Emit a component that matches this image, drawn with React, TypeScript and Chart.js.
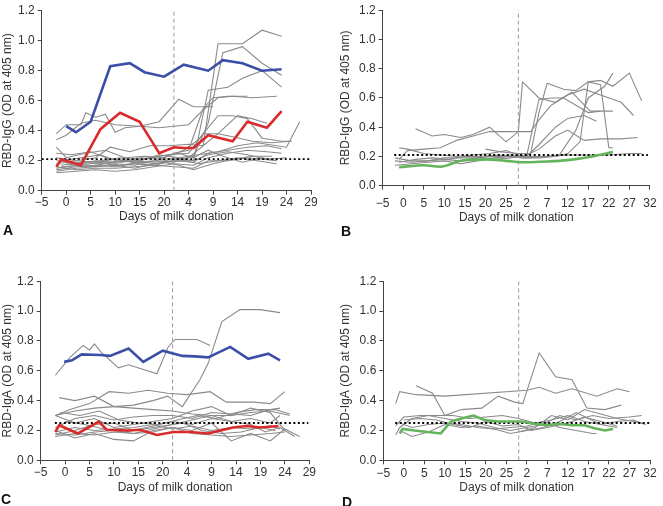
import React, { useEffect, useRef } from "react";
import { Chart, registerables } from "chart.js";
Chart.register(...registerables);

type P = [number, number];

// x values are positions on a continuous axis; second phase day d sits at d + SHIFT
const A_SHIFT = 21;
const B_SHIFT = 28;
const A_BREAK = 22;
const B_BREAK = 28;
const CUTOFF_IGG = 0.21;
const CUTOFF_IGA = 0.25;
const Y_TICKS_MAX = 1.2;

// ---------- Panel A (RBD-IgG) ----------
const A_BLUE: P[] = [[0,0.43],[2,0.39],[5,0.46],[9,0.83],[13,0.85],[16,0.79],[20,0.76],[24,0.84],[29,0.80],[32,0.87],[36,0.85],[40,0.80],[44,0.81]];
const A_RED: P[] = [[-2,0.16],[-1,0.21],[3,0.17],[7,0.41],[11,0.52],[15,0.46],[19,0.25],[22,0.29],[24,0.285],[26,0.285],[29,0.37],[34,0.33],[37,0.46],[41,0.42],[44,0.53]];
const A_GRAY_1: P[] = [[-2,0.38],[0,0.44],[3,0.44],[4,0.52],[6,0.49],[8,0.51],[10,0.39],[12,0.42],[15,0.43],[19,0.46],[23,0.61],[26,0.56],[30,0.56]];
const A_GRAY_2: P[] = [[-2,0.34],[0,0.37],[3,0.45],[6,0.47],[10,0.44],[15,0.43],[19,0.42],[22,0.43],[25,0.44],[28,0.54],[31,0.62],[34,0.63],[38,0.62],[43,0.63]];
const A_GRAY_3: P[] = [[-2,0.2],[2,0.18],[6,0.2],[10,0.19],[14,0.2],[18,0.19],[22,0.21],[25,0.22],[28,0.3],[31,0.98],[36,0.98],[40,1.07],[44,1.03]];
const A_GRAY_4: P[] = [[-2,0.15],[2,0.17],[6,0.16],[10,0.18],[14,0.17],[18,0.2],[22,0.19],[26,0.23],[29,0.45],[32,0.92],[36,0.96],[40,0.85],[44,0.77]];
const A_GRAY_5: P[] = [[-2,0.14],[2,0.16],[6,0.17],[10,0.16],[14,0.18],[18,0.17],[22,0.2],[26,0.2],[29,0.67],[33,0.69],[36,0.75],[40,0.8],[44,0.69]];
const A_GRAY_6: P[] = [[-2,0.18],[2,0.2],[6,0.22],[9,0.29],[13,0.26],[17,0.3],[21,0.3],[25,0.31],[28,0.3],[31,0.38],[35,0.5],[38,0.48],[41,0.45]];
const A_GRAY_7: P[] = [[-1,0.2],[3,0.18],[7,0.2],[11,0.22],[15,0.2],[19,0.24],[23,0.22],[27,0.24],[31,0.26],[35,0.3],[39,0.32],[45,0.29],[47.7,0.46]];
const A_GRAY_8: P[] = [[-2,0.29],[0,0.22],[4,0.25],[8,0.27],[12,0.22],[16,0.23],[20,0.22],[24,0.27],[27,0.34],[31,0.5],[34,0.5],[37,0.48],[40,0.35],[44,0.33],[46,0.33]];
const A_GRAY_9: P[] = [[-2,0.25],[1,0.24],[5,0.26],[9,0.21],[13,0.2],[17,0.22],[21,0.24],[25,0.25],[28,0.38],[31,0.38],[34,0.36],[38,0.33],[42,0.32],[46,0.33]];
const A_GRAY_10: P[] = [[-2,0.16],[2,0.14],[6,0.15],[10,0.15],[14,0.16],[18,0.17],[22,0.16],[26,0.15],[29,0.2],[33,0.2],[37,0.22],[40,0.21],[43,0.2]];
const A_GRAY_11: P[] = [[-2,0.12],[2,0.13],[6,0.14],[10,0.13],[14,0.14],[18,0.16],[22,0.18],[26,0.17],[29,0.22],[33,0.25],[37,0.27],[41,0.26],[44,0.25]];
const A_GRAY_12: P[] = [[-2,0.13],[2,0.15],[6,0.16],[10,0.17],[14,0.15],[18,0.18],[22,0.2],[26,0.19],[29,0.25],[33,0.27],[37,0.29],[41,0.3],[44,0.28]];
const A_GRAY_13: P[] = [[-1,0.17],[3,0.19],[7,0.18],[11,0.2],[15,0.22],[19,0.21],[22,0.25],[25,0.27],[28,0.55],[30,0.62],[33,0.63],[37,0.63]];
const A_GRAY_14: P[] = [[-1,0.2],[3,0.22],[7,0.24],[11,0.19],[15,0.2],[19,0.23],[23,0.25],[26,0.22],[29,0.27],[32,0.23],[36,0.19],[40,0.22],[43,0.2]];
const A_GRAY_15: P[] = [[-2,0.22],[2,0.2],[6,0.19],[10,0.21],[14,0.19],[18,0.2],[22,0.22],[26,0.2],[29,0.24],[33,0.26],[37,0.24],[41,0.21],[45,0.22]];
const A_GRAY_16: P[] = [[-1,0.16],[3,0.17],[7,0.19],[11,0.17],[15,0.19],[19,0.18],[23,0.21],[27,0.18],[31,0.2],[35,0.22],[39,0.2],[43,0.18]];
const A_GRAY_17: P[] = [[0,0.18],[4,0.16],[8,0.18],[12,0.2],[16,0.17],[20,0.19],[23,0.17],[26,0.14],[30,0.18],[34,0.21],[38,0.23],[42,0.23]];
const A_GRAY = [A_GRAY_1,A_GRAY_2,A_GRAY_3,A_GRAY_4,A_GRAY_5,A_GRAY_6,A_GRAY_7,A_GRAY_8,A_GRAY_9,A_GRAY_10,A_GRAY_11,A_GRAY_12,A_GRAY_13,A_GRAY_14,A_GRAY_15,A_GRAY_16,A_GRAY_17];

// ---------- Panel B (RBD-IgG) ----------
const B_GREEN: P[] = [[-1,0.127],[5,0.14],[9,0.13],[14,0.17],[20,0.18],[25,0.17],[30,0.16],[35,0.165],[40,0.175],[46,0.2],[51,0.23]];
const B_GRAY_1: P[] = [[3,0.39],[7,0.34],[10,0.35],[14,0.33],[17,0.35],[21,0.4],[25,0.3],[28,0.37],[29,0.71],[33,0.6],[37,0.57],[41,0.64],[45.5,0.51],[51,0.51]];
const B_GRAY_2: P[] = [[-1,0.18],[1,0.24],[5,0.25],[9,0.26],[13,0.31],[17,0.34],[21,0.37],[25,0.37],[29,0.37],[31,0.37],[33,0.45],[36,0.55],[40,0.62],[44,0.66],[48,0.62],[53,0.57],[56,0.48]];
const B_GRAY_3: P[] = [[-1,0.26],[1,0.25],[5,0.22],[9,0.21],[13,0.2],[17,0.21],[21,0.22],[25,0.24],[28,0.21],[30,0.2],[33,0.59],[36,0.6],[39,0.6],[42,0.55],[45,0.5],[48,0.51]];
const B_GRAY_4: P[] = [[20,0.25],[24,0.23],[28,0.22],[31,0.22],[33,0.5],[35,0.7],[39,0.66],[42,0.65],[45,0.71],[48,0.72],[51,0.68],[55,0.77],[58,0.58]];
const B_GRAY_5: P[] = [[-2,0.17],[2,0.16],[6,0.17],[10,0.19],[14,0.19],[18,0.19],[22,0.18],[26,0.19],[30,0.21],[33,0.25],[37,0.34],[40,0.38],[44,0.31],[48,0.32],[53,0.32],[57,0.33]];
const B_GRAY_6: P[] = [[-2,0.19],[2,0.17],[6,0.17],[10,0.18],[14,0.17],[18,0.19],[22,0.2],[26,0.21],[30,0.2],[33,0.28],[37,0.4],[40,0.46],[44,0.48],[47,0.44]];
const B_GRAY_7: P[] = [[-2,0.14],[2,0.15],[6,0.16],[10,0.17],[14,0.15],[18,0.17],[22,0.19],[26,0.2],[29,0.19],[33,0.19],[37,0.2],[40,0.22],[43,0.3],[45,0.71],[48,0.69],[50,0.26],[51,0.26]];
const B_GRAY_8: P[] = [[-1,0.16],[3,0.18],[7,0.19],[11,0.18],[15,0.2],[19,0.2],[23,0.21],[27,0.2],[30,0.2],[34,0.2],[38,0.21],[42,0.38],[45,0.6],[49,0.68],[51,0.77]];
const B_GRAY_9: P[] = [[20,0.2],[25,0.2],[30,0.19],[35,0.2],[40,0.21],[45,0.21],[50,0.21],[55,0.22],[58,0.22]];
const B_GRAY = [B_GRAY_1,B_GRAY_2,B_GRAY_3,B_GRAY_4,B_GRAY_5,B_GRAY_6,B_GRAY_7,B_GRAY_8,B_GRAY_9];

// ---------- Panel C (RBD-IgA) ----------
const C_BLUE: P[] = [[-0.2,0.66],[1.4,0.67],[3.4,0.71],[7.2,0.706],[9.2,0.7],[13,0.75],[16,0.66],[20,0.735],[24,0.7],[26.6,0.697],[29.3,0.69],[33.8,0.76],[37.5,0.68],[41.6,0.715],[44,0.67]];
const C_RED: P[] = [[-2,0.19],[-1.2,0.235],[2.6,0.18],[6.9,0.26],[8.5,0.205],[13,0.2],[15.3,0.205],[18.8,0.17],[22.2,0.19],[25.6,0.19],[29.3,0.18],[34.4,0.22],[37.2,0.23],[39.9,0.22],[43.7,0.23]];
const C_GRAY_1: P[] = [[-2,0.57],[1,0.69],[3.7,0.77],[5,0.74],[6,0.78],[7.2,0.73],[10.9,0.62],[13,0.64],[18.8,0.58],[21.1,0.76],[22.5,0.81],[27,0.81],[29.7,0.77]];
const C_GRAY_2: P[] = [[-2,0.3],[2,0.33],[6,0.35],[10,0.36],[14,0.37],[18,0.4],[21,0.43],[24,0.36],[27.6,0.54],[29.3,0.65],[32.1,0.93],[35.8,1.01],[39.9,1.01],[44,0.99]];
const C_GRAY_3: P[] = [[-2,0.3],[1,0.34],[5,0.38],[9,0.46],[13,0.45],[17,0.47],[21,0.45],[25,0.44],[29.7,0.46],[33,0.39],[38.6,0.39],[42,0.38],[45,0.46]];
const C_GRAY_4: P[] = [[-1.2,0.42],[2,0.4],[6,0.43],[10,0.36],[14,0.35],[18,0.34],[22,0.33],[26,0.31],[30,0.3],[34,0.3],[38,0.32],[42,0.33],[46,0.3]];
const C_GRAY_5: P[] = [[-2,0.3],[2,0.25],[6,0.28],[10,0.22],[14,0.24],[18,0.26],[22,0.28],[26,0.33],[30,0.36],[34,0.3],[38,0.35],[42,0.32],[45,0.2]];
const C_GRAY_6: P[] = [[-2,0.2],[2,0.15],[6,0.18],[10,0.14],[14,0.13],[18,0.2],[22,0.22],[26,0.2],[30,0.25],[34,0.13],[38,0.18],[42,0.13],[45,0.21],[48,0.16]];
const C_GRAY_7: P[] = [[-2,0.17],[2,0.2],[6,0.24],[10,0.25],[14,0.2],[18,0.23],[22,0.26],[26,0.24],[30,0.28],[34,0.26],[38,0.28],[42,0.25],[44,0.3]];
const C_GRAY_8: P[] = [[-2,0.22],[2,0.28],[6,0.3],[10,0.27],[14,0.29],[18,0.3],[22,0.3],[26,0.28],[30,0.32],[34,0.31],[38,0.3],[42,0.34],[44,0.35]];
const C_GRAY_9: P[] = [[-2,0.16],[2,0.18],[6,0.17],[10,0.19],[14,0.18],[18,0.19],[22,0.22],[26,0.18],[30,0.17],[34,0.16],[38,0.17],[42,0.18],[45,0.19]];
const C_GRAY_10: P[] = [[-1,0.32],[3,0.3],[7,0.33],[11,0.27],[15,0.25],[19,0.24],[23,0.27],[27,0.3],[31,0.28],[35,0.32],[39,0.34],[43,0.34],[46,0.31]];
const C_GRAY_11: P[] = [[-2,0.19],[2,0.22],[6,0.2],[10,0.21],[14,0.22],[18,0.24],[22,0.21],[26,0.23],[30,0.2],[34,0.22],[38,0.21],[42,0.23],[44,0.21]];
const C_GRAY_12: P[] = [[0,0.26],[4,0.24],[8,0.21],[12,0.19],[16,0.21],[20,0.23],[24,0.25],[28,0.2],[32,0.18],[36,0.19],[40,0.22],[43,0.2]];
const C_GRAY_13: P[] = [[-2,0.18],[2,0.17],[6,0.19],[10,0.2],[14,0.18],[18,0.21],[22,0.24],[26,0.27],[30,0.3],[34,0.26],[38,0.24],[41,0.19],[44,0.22],[47,0.16]];
const C_GRAY = [C_GRAY_1,C_GRAY_2,C_GRAY_3,C_GRAY_4,C_GRAY_5,C_GRAY_6,C_GRAY_7,C_GRAY_8,C_GRAY_9,C_GRAY_10,C_GRAY_11,C_GRAY_12,C_GRAY_13];

// ---------- Panel D (RBD-IgA) ----------
const D_GREEN: P[] = [[-1,0.18],[-0.3,0.21],[2.6,0.2],[5.8,0.19],[9,0.18],[11.5,0.26],[14,0.28],[17,0.3],[19.6,0.27],[23,0.26],[28.6,0.26],[32,0.245],[35,0.235],[37.5,0.245],[41,0.235],[44,0.235],[46.5,0.215],[49,0.2],[51,0.21]];
const D_GRAY_1: P[] = [[-2,0.38],[-1,0.46],[3,0.44],[10,0.43],[30,0.47],[33,0.49],[37,0.45],[41,0.48],[47,0.43],[52,0.48],[55,0.46]];
const D_GRAY_2: P[] = [[3,0.5],[7,0.45],[10,0.3],[14,0.34],[19,0.35],[23,0.43],[27,0.39],[29,0.38],[33,0.72],[37,0.56],[41,0.54],[44.6,0.35],[49,0.34],[53,0.37]];
const D_GRAY_3: P[] = [[-2,0.17],[-1,0.22],[2,0.28],[6,0.3],[10,0.28],[14,0.26],[18,0.25],[22,0.22],[26,0.2],[30,0.22],[34,0.24],[38,0.3],[42,0.27],[46,0.3],[50,0.28],[55,0.29],[58,0.3]];
const D_GRAY_4: P[] = [[-2,0.23],[0,0.29],[4,0.3],[8,0.3],[12,0.3],[16,0.28],[20,0.29],[24,0.3],[28,0.28],[32,0.25],[36,0.27],[40,0.3],[44,0.26],[48,0.24],[52,0.26],[56,0.27],[58,0.25]];
const D_GRAY_5: P[] = [[-1,0.2],[2,0.16],[6,0.19],[10,0.24],[14,0.22],[18,0.23],[22,0.21],[26,0.18],[30,0.2],[34,0.22],[38,0.26],[42,0.32],[45,0.28],[48,0.24],[52,0.22]];
const D_GRAY_6: P[] = [[-1,0.25],[2,0.22],[6,0.24],[10,0.25],[14,0.24],[18,0.22],[22,0.21],[26,0.22],[30,0.23],[34,0.26],[38,0.22],[42,0.2],[46,0.18],[47,0.18]];
const D_GRAY_7: P[] = [[0,0.27],[4,0.28],[8,0.27],[12,0.24],[16,0.22],[20,0.26],[24,0.23],[28,0.24],[31,0.2],[35,0.22],[40,0.25],[44,0.29],[48,0.26],[52,0.23]];
const D_GRAY_8: P[] = [[28,0.19],[32,0.22],[36,0.3],[40,0.27],[44,0.34],[48,0.31],[52,0.28],[56,0.26],[59,0.24]];
const D_GRAY = [D_GRAY_1,D_GRAY_2,D_GRAY_3,D_GRAY_4,D_GRAY_5,D_GRAY_6,D_GRAY_7,D_GRAY_8];

const BLUE = "#3b4fa8";
const RED = "#d92b2b";
const GREEN = "#63b45a";
const GRAY = "#8a8a8a";
const AXIS = "#444";
const TEXT = "#333";
const FONT = { family: "'Liberation Sans', Arial, Helvetica, sans-serif", size: 12 };

interface PanelCfg {
  left: number; top: number; w: number; h: number;
  padTop: number; padRight: number; padBottom: number;
  yWidth: number; yTitlePad: number; xHeight: number; xTickPad: number;
  xMax: number; shift: number; brk: number; cutoff: number; cutStart: number; cutEnd: number;
  yTitle: string;
  colored: { data: P[]; color: string; smooth?: boolean }[];
  gray: P[][];
}

const PANELS: PanelCfg[] = [
  { left: 0, top: 0, w: 331, h: 253, padTop: 10.7, padRight: 20, padBottom: 28.8, yWidth: 41.7, yTitlePad: 0, xHeight: 33.5, xTickPad: 1,
    xMax: 50, shift: A_SHIFT, brk: A_BREAK, cutoff: CUTOFF_IGG, cutStart: -5, cutEnd: 50, yTitle: "RBD-IgG (OD at 405 nm)",
    colored: [{ data: A_BLUE, color: BLUE }, { data: A_RED, color: RED }], gray: A_GRAY },
  { left: 331, top: 0, w: 332, h: 253, padTop: 6, padRight: 11.3, padBottom: 28.5, yWidth: 51.7, yTitlePad: 7, xHeight: 38.8, xTickPad: 6.4,
    xMax: 60, shift: B_SHIFT, brk: B_BREAK, cutoff: CUTOFF_IGG, cutStart: -2.2, cutEnd: 59.5, yTitle: "RBD-IgG (OD at 405 nm)",
    colored: [{ data: B_GREEN, color: GREEN, smooth: true }], gray: B_GRAY },
  { left: 0, top: 253, w: 331, h: 253, padTop: 28.3, padRight: 21.7, padBottom: 11.5, yWidth: 40.7, yTitlePad: 0, xHeight: 34.2, xTickPad: 1.5,
    xMax: 50, shift: A_SHIFT, brk: A_BREAK, cutoff: CUTOFF_IGA, cutStart: -2.1, cutEnd: 49.8, yTitle: "RBD-IgA (OD at 405 nm)",
    colored: [{ data: C_BLUE, color: BLUE }, { data: C_RED, color: RED }], gray: C_GRAY },
  { left: 331, top: 253, w: 332, h: 253, padTop: 28.3, padRight: 13, padBottom: 10.7, yWidth: 52.3, yTitlePad: 7.5, xHeight: 35, xTickPad: 2,
    xMax: 60, shift: B_SHIFT, brk: B_BREAK, cutoff: CUTOFF_IGA, cutStart: -2.1, cutEnd: 60, yTitle: "RBD-IgA (OD at 405 nm)",
    colored: [{ data: D_GREEN, color: GREEN }], gray: D_GRAY },
];

const LETTERS = [
  { t: "A", x: 3, y: 230 },
  { t: "B", x: 341, y: 231 },
  { t: "C", x: 1, y: 499 },
  { t: "D", x: 342, y: 502 },
];

const toXY = (pts: P[]) => pts.map(([x, y]) => ({ x, y }));
const fmtNum = (v: number) => (v < 0 ? "\u2212" + Math.abs(v) : String(v));

function buildConfig(c: PanelCfg): any {
  const datasets: any[] = [];
  c.colored.forEach((s) =>
    datasets.push({ data: toXY(s.data), borderColor: s.color, borderWidth: 2.6, pointRadius: 0,
      tension: s.smooth ? 0.4 : 0, cubicInterpolationMode: s.smooth ? "monotone" : "default" })
  );
  datasets.push({ data: toXY([[c.cutStart, c.cutoff], [c.cutEnd, c.cutoff]]), borderColor: "#000", borderWidth: 1.8, borderDash: [2, 2.5], pointRadius: 0 });
  datasets.push({ data: toXY([[c.brk, 0], [c.brk, Y_TICKS_MAX]]), borderColor: "#9a9a9a", borderWidth: 1, borderDash: [4, 3], pointRadius: 0 });
  c.gray.forEach((g) => datasets.push({ data: toXY(g), borderColor: GRAY, borderWidth: 1.1, pointRadius: 0 }));

  const grid = { display: true, drawOnChartArea: false, drawTicks: true, tickLength: 4, color: AXIS, lineWidth: 1 };
  const border = { display: true, color: AXIS, width: 1 };

  return {
    type: "line",
    data: { datasets },
    options: {
      responsive: false,
      animation: false,
      events: [],
      layout: { padding: { left: 0, top: c.padTop, right: c.padRight, bottom: c.padBottom } },
      plugins: { legend: { display: false }, tooltip: { enabled: false } },
      scales: {
        x: {
          type: "linear", min: -5, max: c.xMax,
          afterFit: (s: any) => { s.height = c.xHeight; },
          grid, border,
          ticks: { stepSize: 5, padding: c.xTickPad, color: TEXT, font: FONT, maxRotation: 0, autoSkip: false,
            callback: (v: any) => { const n = Math.round(Number(v)); return fmtNum(n < c.shift ? n : n - c.shift); } },
          title: { display: true, text: "Days of milk donation", color: TEXT, font: FONT, padding: 0 },
        },
        y: {
          type: "linear", min: 0, max: Y_TICKS_MAX,
          afterFit: (s: any) => { s.width = c.yWidth; },
          grid, border,
          ticks: { stepSize: 0.2, padding: 3, color: TEXT, font: FONT, callback: (v: any) => Number(v).toFixed(1) },
          title: { display: true, text: c.yTitle, color: TEXT, font: FONT, padding: { top: c.yTitlePad, bottom: 0 } },
        },
      },
    },
  };
}

function Panel({ cfg }: { cfg: PanelCfg }) {
  const ref = useRef<HTMLCanvasElement>(null);
  useEffect(() => {
    const chart = new Chart(ref.current as HTMLCanvasElement, buildConfig(cfg));
    return () => chart.destroy();
  }, [cfg]);
  return (
    <canvas ref={ref} width={cfg.w} height={cfg.h}
      style={{ position: "absolute", left: cfg.left, top: cfg.top, width: cfg.w, height: cfg.h }} />
  );
}

export default function App() {
  return (
    <div style={{ position: "fixed", left: 0, top: 0, width: 663, height: 506, background: "#fff", overflow: "hidden" }}>
      {PANELS.map((p, i) => <Panel key={i} cfg={p} />)}
      {LETTERS.map((l) => (
        <div key={l.t} style={{ position: "absolute", left: l.x, top: l.y - 8.5, fontFamily: "'Liberation Sans', Arial, sans-serif",
          fontWeight: "bold", fontSize: 14, lineHeight: "16px", color: "#111" }}>{l.t}</div>
      ))}
    </div>
  );
}
